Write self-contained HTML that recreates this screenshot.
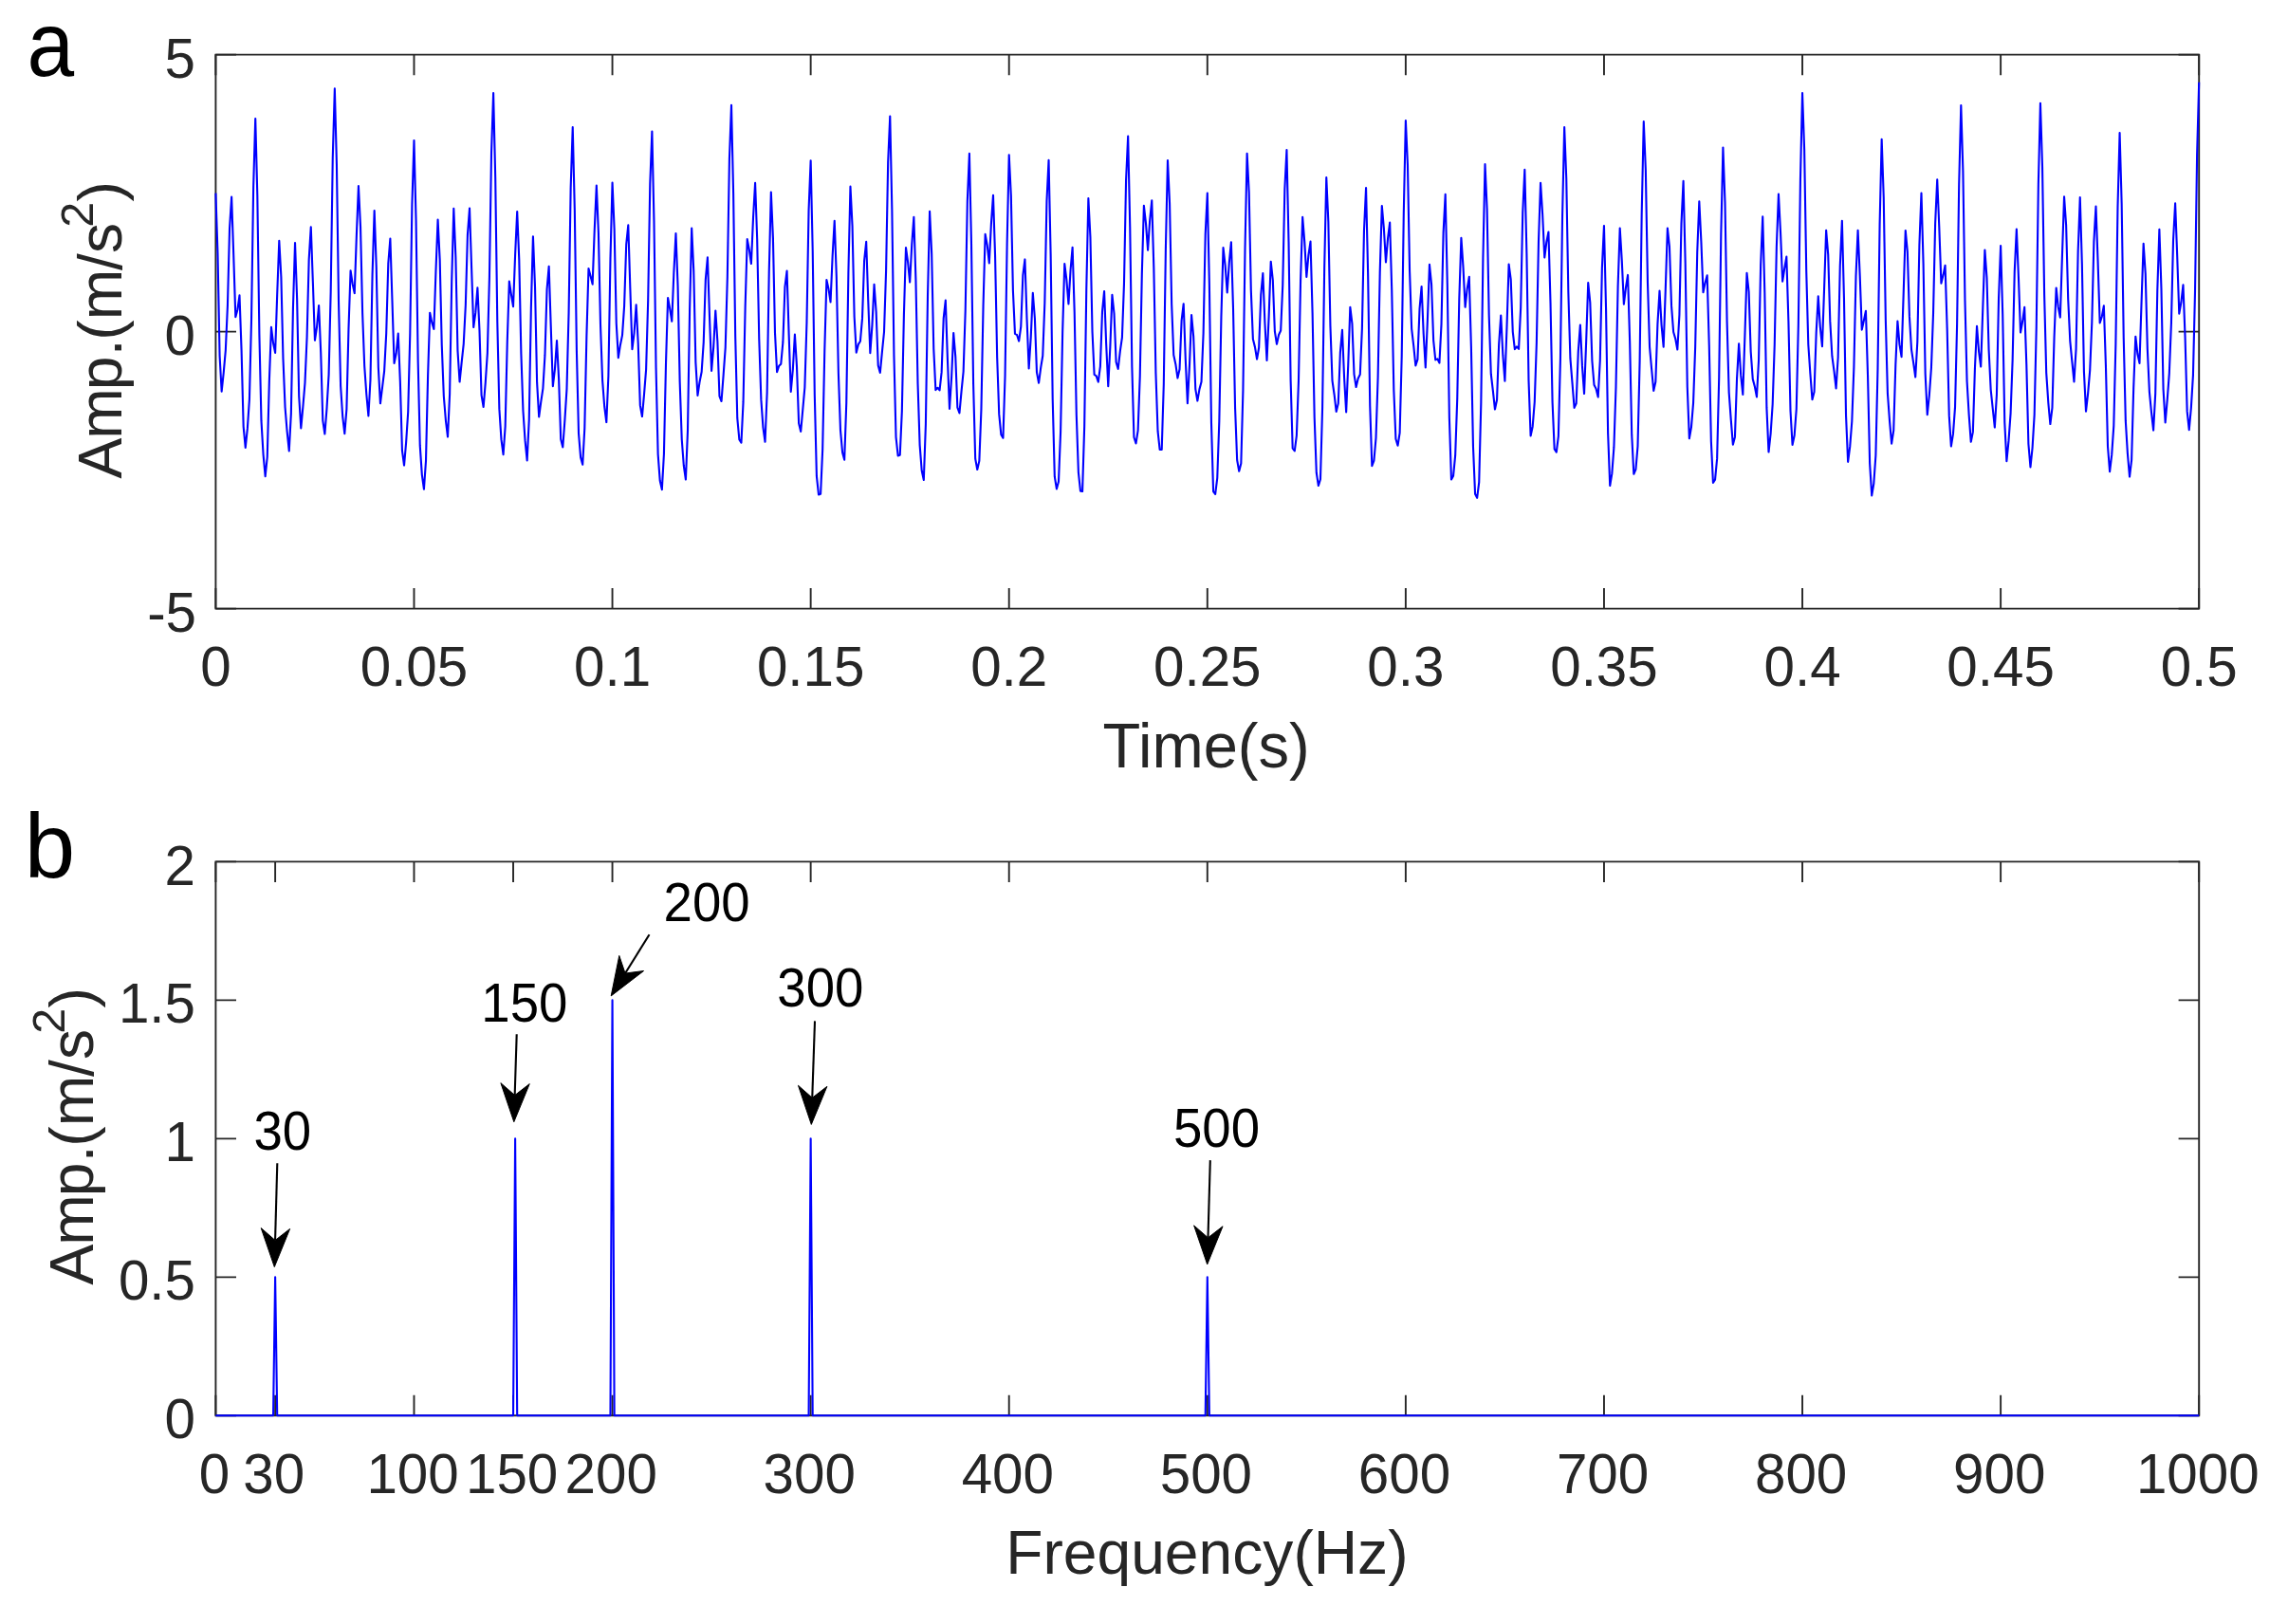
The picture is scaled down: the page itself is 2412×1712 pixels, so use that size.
<!DOCTYPE html>
<html><head><meta charset="utf-8"><title>Figure</title>
<style>html,body{margin:0;padding:0;background:#fff}body{width:2412px;height:1712px;overflow:hidden}</style></head>
<body>
<svg width="2412" height="1712" viewBox="0 0 2412 1712" style="display:block;font-family:'Liberation Sans',sans-serif">
<rect width="2412" height="1712" fill="#fff"/>
<path d="M227.4 57.6H2318.2V641.6H227.4Z" fill="none" stroke="#262626" stroke-width="1.9" stroke-linejoin="miter"/>
<path d="M227.4 641.6v-21.6M227.4 57.6v21.6M436.48 641.6v-21.6M436.48 57.6v21.6M645.56 641.6v-21.6M645.56 57.6v21.6M854.64 641.6v-21.6M854.64 57.6v21.6M1063.72 641.6v-21.6M1063.72 57.6v21.6M1272.8 641.6v-21.6M1272.8 57.6v21.6M1481.88 641.6v-21.6M1481.88 57.6v21.6M1690.96 641.6v-21.6M1690.96 57.6v21.6M1900.04 641.6v-21.6M1900.04 57.6v21.6M2109.12 641.6v-21.6M2109.12 57.6v21.6M2318.2 641.6v-21.6M2318.2 57.6v21.6M227.4 641.6h21.6M2318.2 641.6h-21.6M227.4 349.6h21.6M2318.2 349.6h-21.6M227.4 57.6h21.6M2318.2 57.6h-21.6" fill="none" stroke="#262626" stroke-width="1.9" stroke-linecap="butt"/>
<polyline points="227.4,203.6 229.49,267.28 231.58,375.12 233.67,412.76 235.76,392.62 237.85,369.24 239.94,321.9 242.04,240.59 244.13,207.63 246.22,268.72 248.31,334.27 250.4,326.49 252.49,311.36 254.58,369.24 256.67,449.86 258.76,471.94 260.85,451.92 262.94,420.93 265.03,336.49 267.13,197.25 269.22,125.14 271.31,205.83 273.4,352.86 275.49,443.68 277.58,479.31 279.67,502.26 281.76,481.75 283.85,401.98 285.94,344.92 288.03,361.52 290.12,371.87 292.21,310.11 294.31,253.8 296.4,292 298.49,378.26 300.58,429.53 302.67,455.14 304.76,475.45 306.85,435.91 308.94,324.42 311.03,255.96 313.12,314.5 315.21,417.58 317.3,451.39 319.4,428.64 321.49,403.75 323.58,355.61 325.67,273.57 327.76,239.2 329.85,297.58 331.94,358.74 334.03,344.78 336.12,322.01 338.21,371.38 340.3,443.37 342.39,457.52 344.48,430.92 346.58,395.05 348.67,307.47 350.76,166.47 352.85,93.41 354.94,173.24 357.03,318.82 359.12,407.12 361.21,439.01 363.3,457.17 365.39,431.35 367.48,346.44 369.57,285.21 371.67,299.26 373.76,309.09 375.85,248.89 377.94,195.95 380.03,238.73 382.12,330.03 384.21,386.04 386.3,415.5 388.39,438.49 390.48,400.47 392.57,289.76 394.66,221.94 396.75,281.72 398.85,387.27 400.94,425.25 403.03,408.44 405.12,391.04 407.21,351.34 409.3,277.95 411.39,251.63 413.48,316.8 415.57,383.06 417.66,372.48 419.75,351.64 421.84,402.07 423.94,474.96 426.03,490.54 428.12,466.4 430.21,434.23 432.3,351.43 434.39,215.82 436.48,148.06 438.57,232.31 440.66,380.76 442.75,469.93 444.84,500.58 446.93,515.66 449.02,485.47 451.12,395.64 453.21,329.7 455.3,339.87 457.39,346.98 459.48,285.22 461.57,231.53 463.66,273.76 465.75,363.99 467.84,417.74 469.93,443.28 472.02,460.55 474.11,415.23 476.21,296.16 478.3,219.68 480.39,271.29 482.48,369.88 484.57,402.52 486.66,382.12 488.75,362.6 490.84,321.72 492.93,247.38 495.02,219.65 497.11,282.41 499.2,345.02 501.29,329.67 503.39,303.39 505.48,348.37 507.57,416.6 509.66,429 511.75,403.64 513.84,372.37 515.93,292.36 518.02,160.9 520.11,97.93 522.2,186.85 524.29,339.21 526.38,431.14 528.48,463.38 530.57,479.19 532.66,449.47 534.75,360.55 536.84,296.65 538.93,310.49 541.02,323.09 543.11,268.45 545.2,223.02 547.29,273.91 549.38,372.4 551.47,433.28 553.56,464.38 555.66,485.47 557.75,442.45 559.84,324.68 561.93,249.2 564.02,302.21 566.11,403.15 568.2,439.39 570.29,423.73 572.38,409.71 574.47,374.42 576.56,304.97 578.65,280.72 580.75,345.04 582.84,407.1 584.93,389.26 587.02,359.05 589.11,399.37 591.2,462.99 593.29,471.48 595.38,443.32 597.47,410.42 599.56,329.68 601.65,197.84 603.74,134.11 605.83,221.2 607.93,370.14 610.02,456.83 612.11,482.15 614.2,489.82 616.29,451.44 618.38,354.18 620.47,282.98 622.56,291.06 624.65,299.61 626.74,242.48 628.83,195.62 630.92,245.45 633.02,342.56 635.11,401.14 637.2,428.71 639.29,445.08 641.38,396.52 643.47,273.04 645.56,192.45 647.65,241.68 649.74,340.73 651.83,377.17 653.92,363.69 656.01,353.37 658.1,322.58 660.2,257.68 662.29,237.35 664.38,304.51 666.47,368.23 668.56,351.11 670.65,321.21 672.74,362.15 674.83,427.38 676.92,439.04 679.01,415.87 681.1,389.69 683.19,316.96 685.29,193.74 687.38,138.43 689.47,232.98 691.56,387.88 693.65,478.82 695.74,506.83 697.83,516.07 699.92,478.81 702.01,382.93 704.1,313.97 706.19,325.51 708.28,338.75 710.37,287.19 712.47,246.15 714.56,301.3 716.65,402.47 718.74,463.29 720.83,491 722.92,505.49 725.01,453.49 727.1,325.67 729.19,240.6 731.28,285.92 733.37,382.08 735.46,416.83 737.56,402.64 739.65,392.06 741.74,360.81 743.83,294.5 745.92,271.26 748.01,333.68 750.1,390.9 752.19,365.91 754.28,327.43 756.37,359.9 758.46,417.53 760.55,423.03 762.64,395.38 764.74,366.32 766.83,291.9 768.92,167.49 771.01,110.8 773.1,203.15 775.19,354.66 777.28,440.96 779.37,463.38 781.46,466.69 783.55,423.92 785.64,323.7 787.73,252.17 789.83,263.23 791.92,278.02 794.01,229.65 796.1,192.78 798.19,252.33 800.28,357.41 802.37,421.13 804.46,450.57 806.55,465.78 808.64,413.97 810.73,286.48 812.82,202.6 814.91,250.59 817.01,351.24 819.1,392.26 821.19,385.79 823.28,383.72 825.37,360.97 827.46,302.4 829.55,285.52 831.64,352.62 833.73,412.91 835.82,389.77 837.91,352.55 840,386.39 842.1,446.17 844.19,454.99 846.28,431.94 848.37,408.47 850.46,340.06 852.55,221.36 854.64,169.27 856.73,264.52 858.82,416.85 860.91,501.93 863,521.43 865.09,520.75 867.18,473.67 869.28,369.56 871.37,295.1 873.46,304.39 875.55,318.46 877.64,269.96 879.73,232.89 881.82,291.44 883.91,394.1 886,453.61 888.09,477.01 890.18,484.67 892.27,424.42 894.37,288.39 896.46,196.67 898.55,238.12 900.64,333.87 902.73,371.63 904.82,363.16 906.91,359.77 909,335.64 911.09,274.97 913.18,254.83 915.27,317.4 917.36,372.1 919.45,342.86 921.55,299.76 923.64,328.74 925.73,385.3 927.82,392.95 929.91,370.79 932,349.98 934.09,285.37 936.18,170.87 938.27,122.64 940.36,220.85 942.45,374.98 944.54,460.8 946.64,480.37 948.73,479.76 950.82,433.48 952.91,331.55 955,261.04 957.09,276.13 959.18,297.57 961.27,257.41 963.36,228.89 965.45,295.39 967.54,404.76 969.63,469.37 971.72,496.23 973.82,506.03 975.91,447.2 978,312.56 980.09,222.89 982.18,267.52 984.27,367.74 986.36,411.08 988.45,408.77 990.54,411.41 992.63,392.4 994.72,335.26 996.81,316.63 998.91,378.64 1001,430.97 1003.09,398.13 1005.18,350.95 1007.27,376.11 1009.36,429.69 1011.45,435.5 1013.54,412.6 1015.63,391.75 1017.72,327.19 1019.81,212.07 1021.9,161.92 1023.99,256.45 1026.09,405.04 1028.18,483.67 1030.27,495.01 1032.36,485.86 1034.45,431.53 1036.54,322.72 1038.63,246.91 1040.72,258.35 1042.81,277.49 1044.9,235.83 1046.99,205.9 1049.08,270.4 1051.18,376.67 1053.27,436.88 1055.36,458.18 1057.45,461.76 1059.54,396.75 1061.63,256.76 1063.72,163.25 1065.81,206.02 1067.9,306.47 1069.99,351.89 1072.08,352.97 1074.17,359.57 1076.26,344.34 1078.36,290.19 1080.45,273.43 1082.54,336.19 1084.63,388.52 1086.72,355.52 1088.81,308.77 1090.9,335.6 1092.99,392.59 1095.08,403.7 1097.17,387.77 1099.26,375.04 1101.35,319 1103.45,212.02 1105.54,168.9 1107.63,268.92 1109.72,421.35 1111.81,502.44 1113.9,515.36 1115.99,507.64 1118.08,455.28 1120.17,349.5 1122.26,278.02 1124.35,294.97 1126.44,320.38 1128.53,285.03 1130.63,260.69 1132.72,329.33 1134.81,437.79 1136.9,498.1 1138.99,517.62 1141.08,518.04 1143.17,449.19 1145.26,305.48 1147.35,208.97 1149.44,249.84 1151.53,349.52 1153.62,394.98 1155.72,396.32 1157.81,402.68 1159.9,386.01 1161.99,328.72 1164.08,306.94 1166.17,362.94 1168.26,407.28 1170.35,365.79 1172.44,310.85 1174.53,330.5 1176.62,381.81 1178.71,388.88 1180.8,370.35 1182.9,355.93 1184.99,298.44 1187.08,189.52 1189.17,143.46 1191.26,239.22 1193.35,386.18 1195.44,460.97 1197.53,467.46 1199.62,453.94 1201.71,397.15 1203.8,288.83 1205.89,216.9 1207.99,235.35 1210.08,263.69 1212.17,232.03 1214.26,211.35 1216.35,282.99 1218.44,393.38 1220.53,454.48 1222.62,473.93 1224.71,473.99 1226.8,405.21 1228.89,262.69 1230.98,169.04 1233.07,214.67 1235.17,320.89 1237.26,374.18 1239.35,383.97 1241.44,398.57 1243.53,389.21 1245.62,337.79 1247.71,320.24 1249.8,379.01 1251.89,425.13 1253.98,385.13 1256.07,332.07 1258.16,354.6 1260.26,410.08 1262.35,422.58 1264.44,410.36 1266.53,402.49 1268.62,351 1270.71,246.8 1272.8,203.6 1274.89,300.15 1276.98,445.92 1279.07,518.02 1281.16,520.98 1283.25,503.86 1285.34,444.07 1287.44,333.8 1289.53,261.07 1291.62,279.6 1293.71,308.39 1295.8,276.83 1297.89,255.19 1299.98,324.25 1302.07,430.16 1304.16,484.96 1306.25,496.73 1308.34,488.41 1310.43,411.35 1312.53,261.4 1314.62,161.71 1316.71,202.92 1318.8,306.21 1320.89,357.61 1322.98,365.88 1325.07,378.62 1327.16,366.47 1329.25,310.97 1331.34,288.04 1333.43,340.49 1335.52,379.97 1337.61,333.77 1339.71,275.73 1341.8,295.06 1343.89,349.42 1345.98,362.78 1348.07,353.01 1350.16,348.51 1352.25,300.53 1354.34,199.31 1356.43,158.1 1358.52,255.48 1360.61,401.14 1362.7,472.7 1364.8,475.4 1366.89,459.01 1368.98,401.53 1371.07,295.46 1373.16,228.78 1375.25,254.82 1377.34,291.92 1379.43,268.67 1381.52,254.57 1383.61,329.83 1385.7,440.34 1387.79,498.24 1389.88,512.01 1391.98,505.24 1394.07,430.01 1396.16,282.78 1398.25,187.08 1400.34,233.6 1402.43,343.2 1404.52,401.33 1406.61,415.98 1408.7,433.98 1410.79,425.34 1412.88,371.3 1414.97,347.82 1417.07,398.07 1419.16,434.36 1421.25,384.74 1423.34,323.73 1425.43,341.06 1427.52,394.56 1429.61,408.05 1431.7,398.9 1433.79,394.81 1435.88,346.34 1437.97,243.08 1440.06,197.95 1442.15,289.53 1444.25,427.87 1446.34,491.22 1448.43,485.59 1450.52,461.57 1452.61,397.73 1454.7,286.87 1456.79,216.93 1458.88,240.86 1460.97,276.36 1463.06,251.3 1465.15,234.56 1467.24,305.92 1469.34,411.2 1471.43,462.79 1473.52,469.76 1475.61,456.45 1477.7,375.72 1479.79,224.65 1481.88,127.15 1483.97,173.91 1486.06,285.44 1488.15,346.58 1490.24,364.56 1492.33,385.49 1494.42,378.87 1496.52,325.71 1498.61,302.09 1500.7,351.66 1502.79,387.38 1504.88,338.04 1506.97,278.79 1509.06,299.75 1511.15,358.79 1513.24,379.41 1515.33,378.36 1517.42,382.58 1519.51,341.83 1521.61,245.09 1523.7,204.92 1525.79,299.93 1527.88,440.5 1529.97,505.5 1532.06,501.66 1534.15,480.2 1536.24,420.16 1538.33,314.45 1540.42,250.79 1542.51,281.58 1544.6,323.77 1546.69,304.47 1548.79,291.87 1550.88,365.37 1552.97,470.73 1555.06,520.67 1557.15,524.83 1559.24,508.29 1561.33,424.65 1563.42,271.55 1565.51,173.16 1567.6,220.05 1569.69,332.33 1571.78,394.18 1573.88,412.1 1575.97,431.54 1578.06,421.58 1580.15,363.15 1582.24,332.62 1584.33,374.2 1586.42,401.63 1588.51,344.49 1590.6,278.59 1592.69,294.41 1594.78,349.86 1596.87,368.13 1598.96,365.37 1601.06,367.83 1603.15,324.59 1605.24,224.15 1607.33,178.91 1609.42,267.67 1611.51,401.34 1613.6,459.5 1615.69,449.67 1617.78,423.77 1619.87,361.26 1621.96,255.14 1624.05,192.86 1626.15,226.26 1628.24,271.56 1630.33,255.12 1632.42,244.56 1634.51,318.99 1636.6,424.21 1638.69,473.34 1640.78,476.65 1642.87,459.97 1644.96,377.55 1647.05,227.49 1649.14,134.08 1651.23,187.67 1653.33,307.81 1655.42,377.92 1657.51,403.69 1659.6,429.93 1661.69,425.27 1663.78,370.59 1665.87,342.54 1667.96,385.88 1670.05,415.06 1672.14,360.34 1674.23,298.04 1676.32,318.84 1678.42,380.49 1680.51,405.69 1682.6,409.9 1684.69,418.57 1686.78,380.06 1688.87,282.43 1690.96,237.93 1693.05,325.59 1695.14,456.86 1697.23,512.03 1699.32,499.4 1701.41,471.45 1703.5,407.99 1705.6,302.01 1707.69,240.59 1709.78,274.97 1711.87,320.62 1713.96,303.22 1716.05,289.92 1718.14,359.63 1720.23,458.4 1722.32,499.82 1724.41,494.91 1726.5,470.33 1728.59,381 1730.69,225.47 1732.78,128.15 1734.87,179.14 1736.96,297.45 1739.05,365.81 1741.14,389.23 1743.23,411.97 1745.32,402.44 1747.41,341.62 1749.5,306.61 1751.59,342.87 1753.68,365.64 1755.77,305.89 1757.87,240.45 1759.96,260.19 1762.05,322.64 1764.14,350.02 1766.23,357.08 1768.32,368.51 1770.41,332.05 1772.5,235.39 1774.59,190.75 1776.68,277.51 1778.77,407.68 1780.86,462.3 1782.96,450.36 1785.05,424.86 1787.14,365.82 1789.23,266.06 1791.32,212.19 1793.41,254.71 1795.5,308.3 1797.59,297.93 1799.68,290.25 1801.77,364.05 1803.86,465.54 1805.95,508.85 1808.04,505.69 1810.14,483.39 1812.23,397.45 1814.32,246.7 1816.41,155.45 1818.5,213.41 1820.59,338.9 1822.68,413.88 1824.77,442.6 1826.86,468.79 1828.95,460.66 1831.04,399.33 1833.13,362.36 1835.23,395.92 1837.32,415.99 1839.41,354.2 1841.5,287.77 1843.59,307.63 1845.68,371.04 1847.77,399.63 1849.86,407.43 1851.95,418.42 1854.04,379.81 1856.13,279.03 1858.22,228.42 1860.31,307.81 1862.41,429.91 1864.5,476.57 1866.59,457.5 1868.68,426.22 1870.77,362.95 1872.86,260.33 1874.95,204.49 1877.04,245.27 1879.13,296.64 1881.22,282.98 1883.31,270.64 1885.4,338.43 1887.5,432.96 1889.59,469 1891.68,459.04 1893.77,431.17 1895.86,341.46 1897.95,188.98 1900.04,97.95 1902.13,157.62 1904.22,285.67 1906.31,363.27 1908.4,394.02 1910.49,421.22 1912.58,412.98 1914.68,350.66 1916.77,312.38 1918.86,345.01 1920.95,365.26 1923.04,305.33 1925.13,242.72 1927.22,268.29 1929.31,338.88 1931.4,375.45 1933.49,391.22 1935.58,409.43 1937.67,376.74 1939.77,280.34 1941.86,232.73 1943.95,314.16 1946.04,438.01 1948.13,486.83 1950.22,470.94 1952.31,444.21 1954.4,386.86 1956.49,291.19 1958.58,242.7 1960.67,290.45 1962.76,347.64 1964.85,338.07 1966.95,327.78 1969.04,395.66 1971.13,488.71 1973.22,522.37 1975.31,509.87 1977.4,479.98 1979.49,389.24 1981.58,236.86 1983.67,146.85 1985.76,207.93 1987.85,337.08 1989.94,414.75 1992.04,443.94 1994.13,467.63 1996.22,453.95 1998.31,384.64 2000.4,338.49 2002.49,363.16 2004.58,376.11 2006.67,310.13 2008.76,242.97 2010.85,265.41 2012.94,333.88 2015.03,368.69 2017.12,382.36 2019.22,397.49 2021.31,360.37 2023.4,258.15 2025.49,203.62 2027.58,277.63 2029.67,394.35 2031.76,437.11 2033.85,416.82 2035.94,387.72 2038.03,329.96 2040.12,235.52 2042.21,189.24 2044.31,239.45 2046.4,298.64 2048.49,290.11 2050.58,279.74 2052.67,346.58 2054.76,438.13 2056.85,470.51 2058.94,457.69 2061.03,429.07 2063.12,341.54 2065.21,194.32 2067.3,111.08 2069.39,179.91 2071.49,317.01 2073.58,402.04 2075.67,437.42 2077.76,465.8 2079.85,455.38 2081.94,388.28 2084.03,343.9 2086.12,370.62 2088.21,386.55 2090.3,324.87 2092.39,263.44 2094.48,292.76 2096.58,368.69 2098.67,410.77 2100.76,430.75 2102.85,450.57 2104.94,416.16 2107.03,314.64 2109.12,259.14 2111.21,331.13 2113.3,445.49 2115.39,486.27 2117.48,464.93 2119.57,435.89 2121.66,379.19 2123.76,286.33 2125.85,241.5 2127.94,292.26 2130.03,350.47 2132.12,339.04 2134.21,323.8 2136.3,384.09 2138.39,468.03 2140.48,492.5 2142.57,472.26 2144.66,437.34 2146.75,344.96 2148.85,194.35 2150.94,108.81 2153.03,175.85 2155.12,310.95 2157.21,393.11 2159.3,424.3 2161.39,447.07 2163.48,429.81 2165.57,355.23 2167.66,303.44 2169.75,323.63 2171.84,334.57 2173.93,269.86 2176.03,207.42 2178.12,237.44 2180.21,315.21 2182.3,359.55 2184.39,381.46 2186.48,402.35 2188.57,367.89 2190.66,265.3 2192.75,208.14 2194.84,278.53 2196.93,392.11 2199.02,433.58 2201.12,414.82 2203.21,390.36 2205.3,339.98 2207.39,254.58 2209.48,217.61 2211.57,275.83 2213.66,340.46 2215.75,334.03 2217.84,322.31 2219.93,384.98 2222.02,470.73 2224.11,497.16 2226.2,479.69 2228.3,448.82 2230.39,361.95 2232.48,218.11 2234.57,140.08 2236.66,214.65 2238.75,356.49 2240.84,443.92 2242.93,478.46 2245.02,502.55 2247.11,484.87 2249.2,408.63 2251.29,354.71 2253.39,373 2255.48,382.87 2257.57,318.19 2259.66,256.82 2261.75,288.58 2263.84,368.09 2265.93,413.44 2268.02,434.95 2270.11,453.57 2272.2,414.83 2274.29,306.17 2276.38,241.71 2278.47,304.3 2280.57,410.38 2282.66,445.33 2284.75,421.45 2286.84,393.33 2288.93,340.47 2291.02,253.23 2293.11,214.34 2295.2,269.9 2297.29,330.6 2299.38,318.78 2301.47,300.37 2303.56,355.52 2305.66,433.64 2307.75,453.12 2309.84,430.11 2311.93,395.58 2314.02,307.06 2316.11,163.38 2318.2,86.8" fill="none" stroke="#0000ff" stroke-width="2.1" stroke-linejoin="round" stroke-linecap="butt"/>
<g fill="#262626" font-size="58.33px">
<text transform="translate(227.4 723.2) scale(1 1.03)" text-anchor="middle">0</text>
<text transform="translate(436.48 723.2) scale(1 1.03)" text-anchor="middle">0.05</text>
<text transform="translate(645.56 723.2) scale(1 1.03)" text-anchor="middle">0.1</text>
<text transform="translate(854.64 723.2) scale(1 1.03)" text-anchor="middle">0.15</text>
<text transform="translate(1063.72 723.2) scale(1 1.03)" text-anchor="middle">0.2</text>
<text transform="translate(1272.8 723.2) scale(1 1.03)" text-anchor="middle">0.25</text>
<text transform="translate(1481.88 723.2) scale(1 1.03)" text-anchor="middle">0.3</text>
<text transform="translate(1690.96 723.2) scale(1 1.03)" text-anchor="middle">0.35</text>
<text transform="translate(1900.04 723.2) scale(1 1.03)" text-anchor="middle">0.4</text>
<text transform="translate(2109.12 723.2) scale(1 1.03)" text-anchor="middle">0.45</text>
<text transform="translate(2318.2 723.2) scale(1 1.03)" text-anchor="middle">0.5</text>
<text transform="translate(207 665.7) scale(1 1.03)" text-anchor="end">-5</text>
<text transform="translate(206 373.7) scale(1 1.03)" text-anchor="end">0</text>
<text transform="translate(206 81.7) scale(1 1.03)" text-anchor="end">5</text>
</g>
<path d="M227.4 908.4H2318.2V1492.3H227.4Z" fill="none" stroke="#262626" stroke-width="1.9" stroke-linejoin="miter"/>
<path d="M227.4 1492.3v-21.6M227.4 908.4v21.6M290.12 1492.3v-21.6M290.12 908.4v21.6M436.48 1492.3v-21.6M436.48 908.4v21.6M541.02 1492.3v-21.6M541.02 908.4v21.6M645.56 1492.3v-21.6M645.56 908.4v21.6M854.64 1492.3v-21.6M854.64 908.4v21.6M1063.72 1492.3v-21.6M1063.72 908.4v21.6M1272.8 1492.3v-21.6M1272.8 908.4v21.6M1481.88 1492.3v-21.6M1481.88 908.4v21.6M1690.96 1492.3v-21.6M1690.96 908.4v21.6M1900.04 1492.3v-21.6M1900.04 908.4v21.6M2109.12 1492.3v-21.6M2109.12 908.4v21.6M2318.2 1492.3v-21.6M2318.2 908.4v21.6M227.4 1492.3h21.6M2318.2 1492.3h-21.6M227.4 1346.33h21.6M2318.2 1346.33h-21.6M227.4 1200.35h21.6M2318.2 1200.35h-21.6M227.4 1054.38h21.6M2318.2 1054.38h-21.6M227.4 908.4h21.6M2318.2 908.4h-21.6" fill="none" stroke="#262626" stroke-width="1.9" stroke-linecap="butt"/>
<path d="M227.4 1492.3L288.03 1492.3L290.12 1346.33L292.21 1492.3L541.02 1492.3L543.11 1200.35L545.2 1492.3L643.47 1492.3L645.56 1054.38L647.65 1492.3L852.55 1492.3L854.64 1200.35L856.73 1492.3L1270.71 1492.3L1272.8 1346.33L1274.89 1492.3L2318.2 1492.3" fill="none" stroke="#0000ff" stroke-width="2.1" stroke-linejoin="round"/>
<g fill="#262626" font-size="58.33px">
<text transform="translate(226 1573.8) scale(1 1.03)" text-anchor="middle">0</text>
<text transform="translate(288.72 1573.8) scale(1 1.03)" text-anchor="middle">30</text>
<text transform="translate(435.08 1573.8) scale(1 1.03)" text-anchor="middle">100</text>
<text transform="translate(539.62 1573.8) scale(1 1.03)" text-anchor="middle">150</text>
<text transform="translate(644.16 1573.8) scale(1 1.03)" text-anchor="middle">200</text>
<text transform="translate(853.24 1573.8) scale(1 1.03)" text-anchor="middle">300</text>
<text transform="translate(1062.32 1573.8) scale(1 1.03)" text-anchor="middle">400</text>
<text transform="translate(1271.4 1573.8) scale(1 1.03)" text-anchor="middle">500</text>
<text transform="translate(1480.48 1573.8) scale(1 1.03)" text-anchor="middle">600</text>
<text transform="translate(1689.56 1573.8) scale(1 1.03)" text-anchor="middle">700</text>
<text transform="translate(1898.64 1573.8) scale(1 1.03)" text-anchor="middle">800</text>
<text transform="translate(2107.72 1573.8) scale(1 1.03)" text-anchor="middle">900</text>
<text transform="translate(2316.8 1573.8) scale(1 1.03)" text-anchor="middle">1000</text>
<text transform="translate(206 1516.4) scale(1 1.03)" text-anchor="end">0</text>
<text transform="translate(206 1370.42) scale(1 1.03)" text-anchor="end">0.5</text>
<text transform="translate(206 1224.45) scale(1 1.03)" text-anchor="end">1</text>
<text transform="translate(206 1078.47) scale(1 1.03)" text-anchor="end">1.5</text>
<text transform="translate(206 932.5) scale(1 1.03)" text-anchor="end">2</text>
</g>
<g fill="#262626" font-size="64.17px">
<text transform="translate(1162.6 809.2) scale(1 1.02)" font-size="65.1px">Time(s)</text>
<text transform="translate(1272.4 1659) scale(1 1.02)" text-anchor="middle">Frequency(Hz)</text>
<text transform="translate(128.2 503) rotate(-90)" y="0" x="-1.4 40.35 91.85 127.7 144.2 165.75 218.1 236">Amp.(m/s<tspan font-size="48.5px" x="263.2" y="-30">2</tspan><tspan x="290.4" y="0">)</tspan></text>
<text transform="translate(98.2 1353) rotate(-90)" y="0" x="-1.4 40.35 91.85 127.7 144.2 165.75 218.1 236">Amp.(m/s<tspan font-size="48.5px" x="263.2" y="-30">2</tspan><tspan x="290.4" y="0">)</tspan></text>
</g>
<g fill="#000" font-size="96px"><text transform="translate(28.6 80.1) scale(0.93 1)">a</text><text x="25.8" y="924.8">b</text></g>
<g fill="#000" font-size="54.6px">
<text transform="translate(297.8 1211.5) scale(1 1.045)" text-anchor="middle">30</text>
<path d="M292.3 1226.3L290.07 1307.51" stroke="#000" stroke-width="2.1" fill="none"/>
<path d="M289.3 1335.6L275.22 1294.6L290.07 1307.51L305.61 1295.43Z" fill="#000" stroke="#000" stroke-width="1" stroke-linejoin="round"/>
<text transform="translate(552.9 1077) scale(1 1.045)" text-anchor="middle">150</text>
<path d="M544.7 1090.3L542.68 1154.61" stroke="#000" stroke-width="2.1" fill="none"/>
<path d="M541.8 1182.7L527.88 1141.64L542.68 1154.61L558.27 1142.6Z" fill="#000" stroke="#000" stroke-width="1" stroke-linejoin="round"/>
<text transform="translate(745.1 970.5) scale(1 1.045)" text-anchor="middle">200</text>
<path d="M684.5 985.3L659.07 1026.06" stroke="#000" stroke-width="2.1" fill="none"/>
<path d="M644.2 1049.9L652.79 1007.41L659.07 1026.06L678.59 1023.5Z" fill="#000" stroke="#000" stroke-width="1" stroke-linejoin="round"/>
<text transform="translate(864.9 1061.3) scale(1 1.045)" text-anchor="middle">300</text>
<path d="M859 1076.4L856.25 1157.32" stroke="#000" stroke-width="2.1" fill="none"/>
<path d="M855.3 1185.4L841.49 1144.31L856.25 1157.32L871.87 1145.34Z" fill="#000" stroke="#000" stroke-width="1" stroke-linejoin="round"/>
<text transform="translate(1282.5 1208.6) scale(1 1.045)" text-anchor="middle">500</text>
<path d="M1275.8 1223.1L1273.49 1304.81" stroke="#000" stroke-width="2.1" fill="none"/>
<path d="M1272.7 1332.9L1258.65 1291.89L1273.49 1304.81L1289.04 1292.75Z" fill="#000" stroke="#000" stroke-width="1" stroke-linejoin="round"/>
</g>
</svg>
</body></html>
